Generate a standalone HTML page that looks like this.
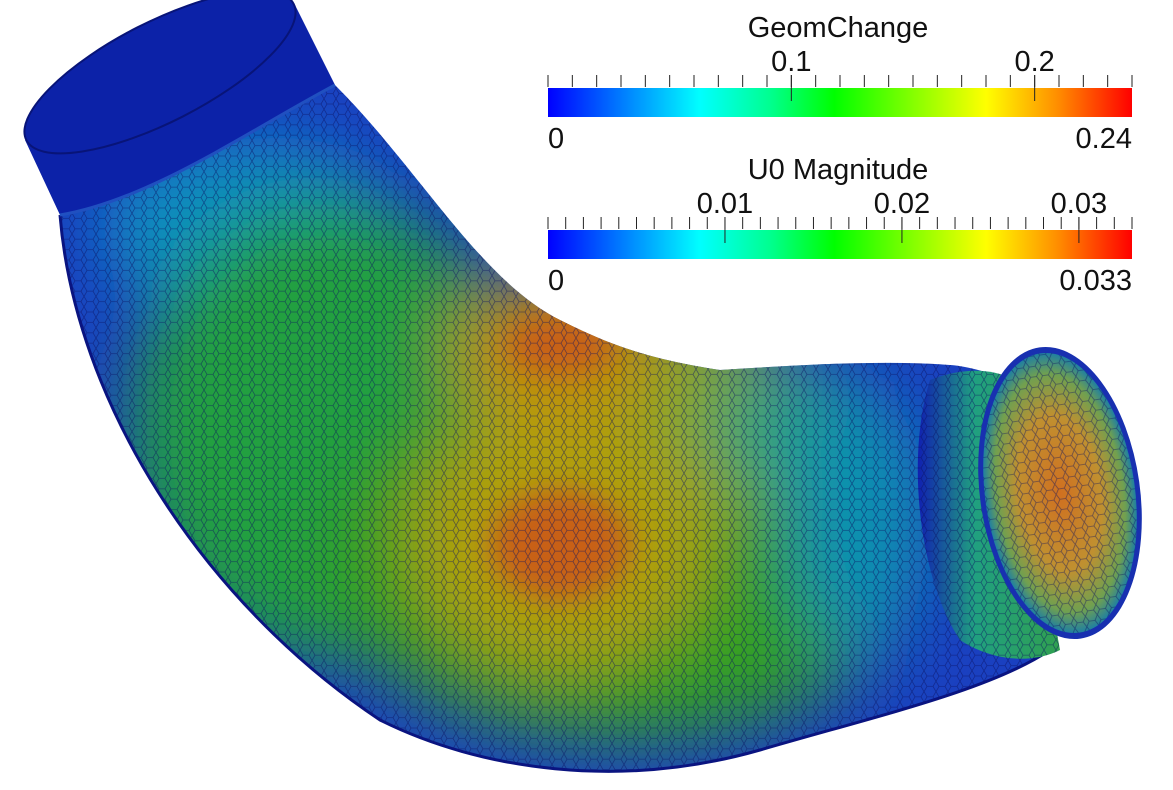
<!DOCTYPE html>
<html><head><meta charset="utf-8"><style>
html,body{margin:0;padding:0;background:#fff;}
svg{display:block;font-family:"Liberation Sans","DejaVu Sans",sans-serif;}
</style></head><body>
<svg id="root" width="1173" height="790" viewBox="0 0 1173 790">
<defs>
  <linearGradient id="cmap" x1="0" x2="1" y1="0" y2="0">
    <stop offset="0" stop-color="#0000ff"/>
    <stop offset="0.13" stop-color="#0080ff"/>
    <stop offset="0.26" stop-color="#00ffff"/>
    <stop offset="0.38" stop-color="#00ff90"/>
    <stop offset="0.49" stop-color="#00ff00"/>
    <stop offset="0.62" stop-color="#80ff00"/>
    <stop offset="0.75" stop-color="#ffff00"/>
    <stop offset="0.87" stop-color="#ff9000"/>
    <stop offset="1" stop-color="#ff0000"/>
  </linearGradient>
  <filter id="blur" x="-50%" y="-50%" width="200%" height="200%"><feGaussianBlur stdDeviation="35"/></filter>
  <filter id="blur2" x="-50%" y="-50%" width="200%" height="200%"><feGaussianBlur stdDeviation="15"/></filter>
  <radialGradient id="face" cx="0.5" cy="0.5" r="0.5">
    <stop offset="0" stop-color="#d07020"/>
    <stop offset="0.55" stop-color="#c09030"/>
    <stop offset="0.85" stop-color="#70a050"/>
    <stop offset="1" stop-color="#2080a0"/>
  </radialGradient>
  <linearGradient id="outletCyl" x1="0" x2="1" y1="0" y2="0">
    <stop offset="0" stop-color="#1020b0"/>
    <stop offset="0.4" stop-color="#20a080"/>
    <stop offset="1" stop-color="#30a050"/>
  </linearGradient>
  <pattern id="mesh" width="12" height="10.4" patternUnits="userSpaceOnUse">
    <path d="M0 5.2 L3 0 L9 0 L12 5.2 L9 10.4 L3 10.4 Z" fill="none" stroke="#0a1060" stroke-opacity="0.5" stroke-width="0.8"/>
  </pattern>
  <clipPath id="bodyClip"><path d="M60 215 C75 400 200 600 380 720 C480 770 620 790 760 750 C880 715 990 690 1050 650 L1010 380 C990 372 960 365 950 365 C880 360 800 365 720 370 C640 358 600 340 560 320 C480 280 420 170 335 85 Z"/></clipPath>
</defs>

<g>
  <path d="M60 215 C75 400 200 600 380 720 C480 770 620 790 760 750 C880 715 990 690 1050 650 L1010 380 C990 372 960 365 950 365 C880 360 800 365 720 370 C640 358 600 340 560 320 C480 280 420 170 335 85 Z" fill="#1a40c0"/>
  <g clip-path="url(#bodyClip)">
    <g filter="url(#blur)">
      <ellipse cx="250" cy="230" rx="150" ry="90" fill="#1090c0"/>
      <ellipse cx="330" cy="430" rx="200" ry="230" fill="#20a040"/>
      <ellipse cx="620" cy="560" rx="300" ry="180" fill="#30a020"/>
      <ellipse cx="640" cy="420" rx="170" ry="110" fill="#80a820"/>
      <ellipse cx="800" cy="430" rx="90" ry="60" fill="#20a080"/>
      <ellipse cx="860" cy="520" rx="70" ry="130" fill="#1090b0"/>
      <ellipse cx="560" cy="540" rx="150" ry="130" fill="#b0a010"/>
      <ellipse cx="560" cy="350" rx="110" ry="70" fill="#c09010"/>
    </g>
    <g filter="url(#blur2)">
      <ellipse cx="560" cy="545" rx="70" ry="55" fill="#c86018"/>
      <ellipse cx="560" cy="345" rx="55" ry="30" fill="#c86018"/>
    </g>
    <rect x="0" y="0" width="1173" height="790" fill="url(#mesh)"/>
  </g>
  <path d="M60 215 C75 400 200 600 380 720 C480 770 620 790 760 750 C880 715 990 690 1050 650" fill="none" stroke="#0a1480" stroke-width="3"/>
</g>

<g>
  <path d="M25 140 L60 215 C150 200 250 130 335 85 L295 5 Z" fill="#0c22a8"/>
  <path d="M60 215 C150 200 250 130 335 85" fill="none" stroke="#2050c0" stroke-width="3"/>
  <ellipse cx="160" cy="72" rx="150" ry="50" transform="rotate(-27 160 72)" fill="#0c22a8" stroke="#081478" stroke-width="2"/>
</g>

<g>
  <path d="M930 380 C960 368 990 368 1010 378 L1060 650 C1030 665 990 660 960 640 C920 580 905 460 930 380 Z" fill="url(#outletCyl)"/>
  <path d="M930 380 C960 368 990 368 1010 378 L1060 650 C1030 665 990 660 960 640 C920 580 905 460 930 380 Z" fill="url(#mesh)"/>
  <ellipse cx="1060" cy="493" rx="80" ry="147" transform="rotate(-8 1060 493)" fill="#1830b0"/>
  <ellipse cx="1060" cy="493" rx="75" ry="141" transform="rotate(-8 1060 493)" fill="url(#face)"/>
  <ellipse cx="1060" cy="493" rx="75" ry="141" transform="rotate(-8 1060 493)" fill="url(#mesh)"/>
</g>

<g id="bars"></g>
</svg>
<script>
const geomTicks = [0.1, 0.2];
const geomTickLabels = ["0.1", "0.2"];
const geomMin = 0, geomMax = 0.24, geomMinorStep = 0.01;
const geomRangeLabels = ["0", "0.24"];
const u0Ticks = [0.01, 0.02, 0.03];
const u0TickLabels = ["0.01", "0.02", "0.03"];
const u0Min = 0, u0Max = 0.033, u0MinorStep = 0.001;
const u0RangeLabels = ["0", "0.033"];

const NS = "http://www.w3.org/2000/svg";
const g = document.getElementById('bars');
function mk(tag, attrs, parent){const e=document.createElementNS(NS,tag);for(const k in attrs)e.setAttribute(k,attrs[k]);parent.appendChild(e);return e;}

function drawBar(name, title, top, min, max, minorStep, ticks, tickLabels, rangeLabels){
  const x0=548, x1=1132, h=29, fs=29;
  const sx = v => x0 + (v-min)/(max-min)*(x1-x0);
  const grp = mk('g',{},g);
  
  
  const t = mk('text',{x:(x0+x1)/2-2,y:top-51,'text-anchor':'middle','font-size':fs,fill:'#111'},grp);
  t.textContent = title;
  
  
  const r = mk('rect',{x:x0,y:top,width:x1-x0,height:h,fill:'url(#cmap)'},grp);
  
  
  const n = Math.round((max-min)/minorStep);
  for(let i=0;i<=n;i++){
    const x=sx(min+i*minorStep);
    if(x>x1+0.5) break;
    const l = mk('line',{x1:x,x2:x,y1:top-13,y2:top-1,stroke:'#222','stroke-width':1},grp);
    
    
  }
  ticks.forEach((v,i)=>{
    const x=sx(v);
    const l = mk('line',{x1:x,x2:x,y1:top-13,y2:top+13,stroke:'#222','stroke-width':1},grp);
    
    
    const tx = mk('text',{x:x,y:top-17,'text-anchor':'middle','font-size':fs,fill:'#111'},grp);
    tx.textContent = tickLabels[i];
    
    
  });
  const a = mk('text',{x:x0,y:top+60,'font-size':fs,fill:'#111'},grp);
  a.textContent = rangeLabels[0];
  
  
  const b = mk('text',{x:x1,y:top+60,'text-anchor':'end','font-size':fs,fill:'#111'},grp);
  b.textContent = rangeLabels[1];
  
  
}
drawBar('geomchange','GeomChange',88,geomMin,geomMax,geomMinorStep,geomTicks,geomTickLabels,geomRangeLabels);
drawBar('u0-magnitude','U0 Magnitude',230,u0Min,u0Max,u0MinorStep,u0Ticks,u0TickLabels,u0RangeLabels);
</script>
</body></html>
